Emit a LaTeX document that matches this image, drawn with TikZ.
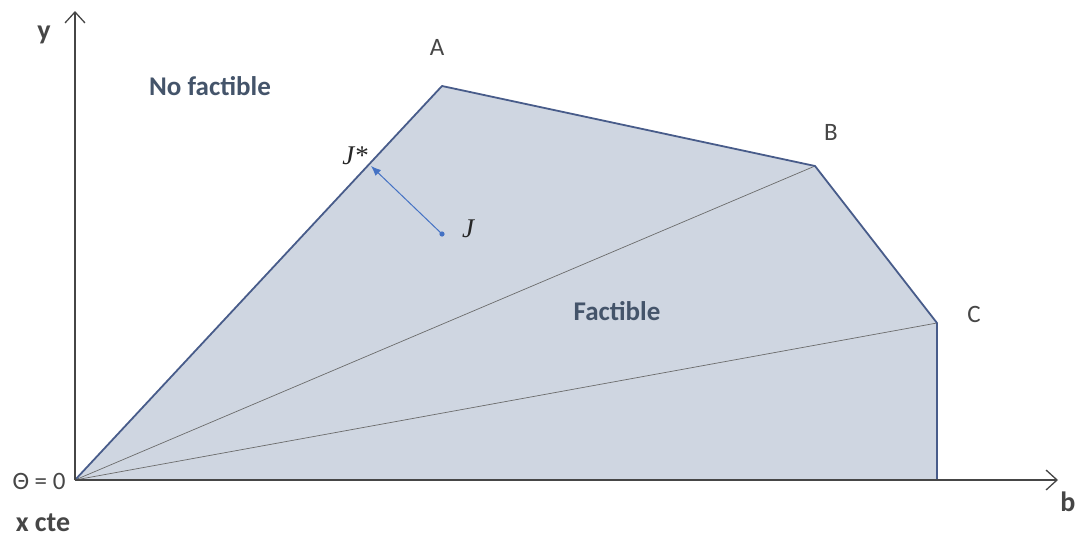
\documentclass[tikz,border=0pt]{standalone}
\usepackage{fontspec}
\setmainfont{Carlito}
\newfontfamily\serifit{Liberation Serif}
\usetikzlibrary{arrows.meta}

\definecolor{regionfill}{RGB}{207,214,225}
\definecolor{regionedge}{RGB}{72,92,138}
\definecolor{axisgray}{RGB}{70,70,70}
\definecolor{textblue}{RGB}{68,84,106}
\definecolor{jblue}{RGB}{68,114,196}

\tikzset{
  axis/.style={draw=axisgray, line width=1.3pt, -{Straight Barb[length=11pt,width=20pt,line width=1.3pt]}},
  bigbold/.style={font=\fontsize{27}{32}\selectfont\bfseries, text=textblue},
  corner/.style={font=\fontsize{25}{30}\selectfont, text=axisgray},
  axislabel/.style={font=\fontsize{28}{33}\selectfont\bfseries, text=axisgray},
  jlabel/.style={font=\fontsize{27}{32}\selectfont\serifit\itshape, text=black!85}
}

\begin{document}
\begin{tikzpicture}[x=1pt, y=-1pt]
  \useasboundingbox (0,0) rectangle (1077,541);

  % Corners of the region
  \coordinate (O) at (75,480);
  \coordinate (A) at (442,86);
  \coordinate (B) at (815,166);
  \coordinate (C) at (937,323);
  \coordinate (D) at (937,480);

  % Region
  \fill[regionfill] (O) -- (A) -- (B) -- (C) -- (D) -- cycle;
  \draw[axisgray!80, line width=0.7pt] (O) -- (B);
  \draw[axisgray!80, line width=0.7pt] (O) -- (C);
  \draw[regionedge, line width=1.8pt, line join=round] (O) -- (A) -- (B) -- (C) -- (D) -- (O);

  % Axes
  \coordinate (xend) at (1058,480);
  \coordinate (yend) at (75,11);
  \draw[axis] (O) -- (xend);
  \draw[axis] (O) -- (yend);

  % J and J*
  \coordinate (J) at (442,234);
  \coordinate (Jstar) at (371,166);
  \fill[jblue] (J) circle (2.6);
  \draw[jblue, line width=1pt, -{Latex[length=10pt,width=8pt]}] (J) -- (Jstar);

  % Labels
  \node[axislabel] (ylab) at (44,35) {y};
  \node[axislabel] (blab) at (1068,502) {b};
  \node[axislabel] (xcte) at (43,523) {x cte};
  \node[corner] (theta) at (39,481) {Θ = 0};
  \node[bigbold] (nofact) at (210,86) {No factible};
  \node[bigbold] (fact) at (617,311) {Factible};
  \node[corner] (Alab) at (437,47) {A};
  \node[corner] (Blab) at (831,132) {B};
  \node[corner] (Clab) at (974,314) {C};
  \node[jlabel] (Jslab) at (355,156) {J*};
  \node[jlabel] (Jlab) at (468,229) {J};
\end{tikzpicture}
\end{document}
